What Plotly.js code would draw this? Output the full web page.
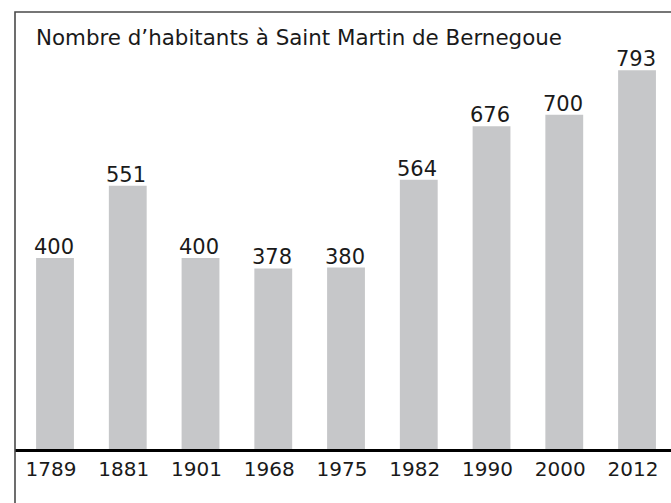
<!DOCTYPE html>
<html>
<head>
<meta charset="utf-8">
<script src="https://cdn.plot.ly/plotly-3.0.1.min.js"></script>
<style>html,body{margin:0;padding:0;background:#fff;}#chart{width:671px;height:503px;}</style>
</head>
<body>
<div id="chart"></div>
<script>
const years = ["1789", "1881", "1901", "1968", "1975", "1982", "1990", "2000", "2012"];
const habitants = [400, 551, 400, 378, 380, 564, 676, 700, 793];
const chartTitle = "Nombre d’habitants à Saint Martin de Bernegoue";

const trace = {
  type: "bar",
  x: years,
  y: habitants,
  marker: {color: "#c6c7c9", line: {width: 0}},
  hoverinfo: "none"
};

// value labels placed at each category's index on the category axis
const valueLabels = years.map((yr, i) => ({
  x: i, y: habitants[i], xref: "x", yref: "y",
  text: String(habitants[i]),
  showarrow: false,
  xanchor: "center", yanchor: "bottom",
  xshift: -1.5, yshift: -3,
  font: {family: "DejaVu Sans", size: 21, color: "#1a1a1a"}
}));

const layout = {
  width: 671,
  height: 503,
  margin: {l: 15, r: 0, t: 12, b: 54},
  paper_bgcolor: "#fff",
  plot_bgcolor: "#fff",
  bargap: 0.48,
  showlegend: false,
  title: {
    text: chartTitle,
    font: {family: "DejaVu Sans", size: 21.4, color: "#1a1a1a"},
    xref: "paper", x: 0.032, xanchor: "left",
    yref: "container", y: 1 - 37.5/503, yanchor: "middle"
  },
  xaxis: {
    type: "category",
    range: [-0.55, 8.467],
    showline: true, linecolor: "#000", linewidth: 2.5,
    ticks: "", showgrid: false, zeroline: false,
    ticklabelshift: -4,
    tickfont: {family: "DejaVu Sans", size: 20, color: "#1a1a1a"},
    fixedrange: true
  },
  yaxis: {
    range: [0, 915],
    visible: false, showgrid: false, zeroline: false,
    fixedrange: true
  },
  annotations: valueLabels,
  shapes: [{
    type: "rect", xref: "paper", yref: "paper",
    x0: 0, x1: 1.1, y0: -0.3, y1: 1,
    line: {color: "#4a4a4a", width: 1.6},
    fillcolor: "rgba(0,0,0,0)",
    layer: "above"
  }]
};

Plotly.newPlot("chart", [trace], layout, {displayModeBar: false, staticPlot: true});
</script>
</body>
</html>
